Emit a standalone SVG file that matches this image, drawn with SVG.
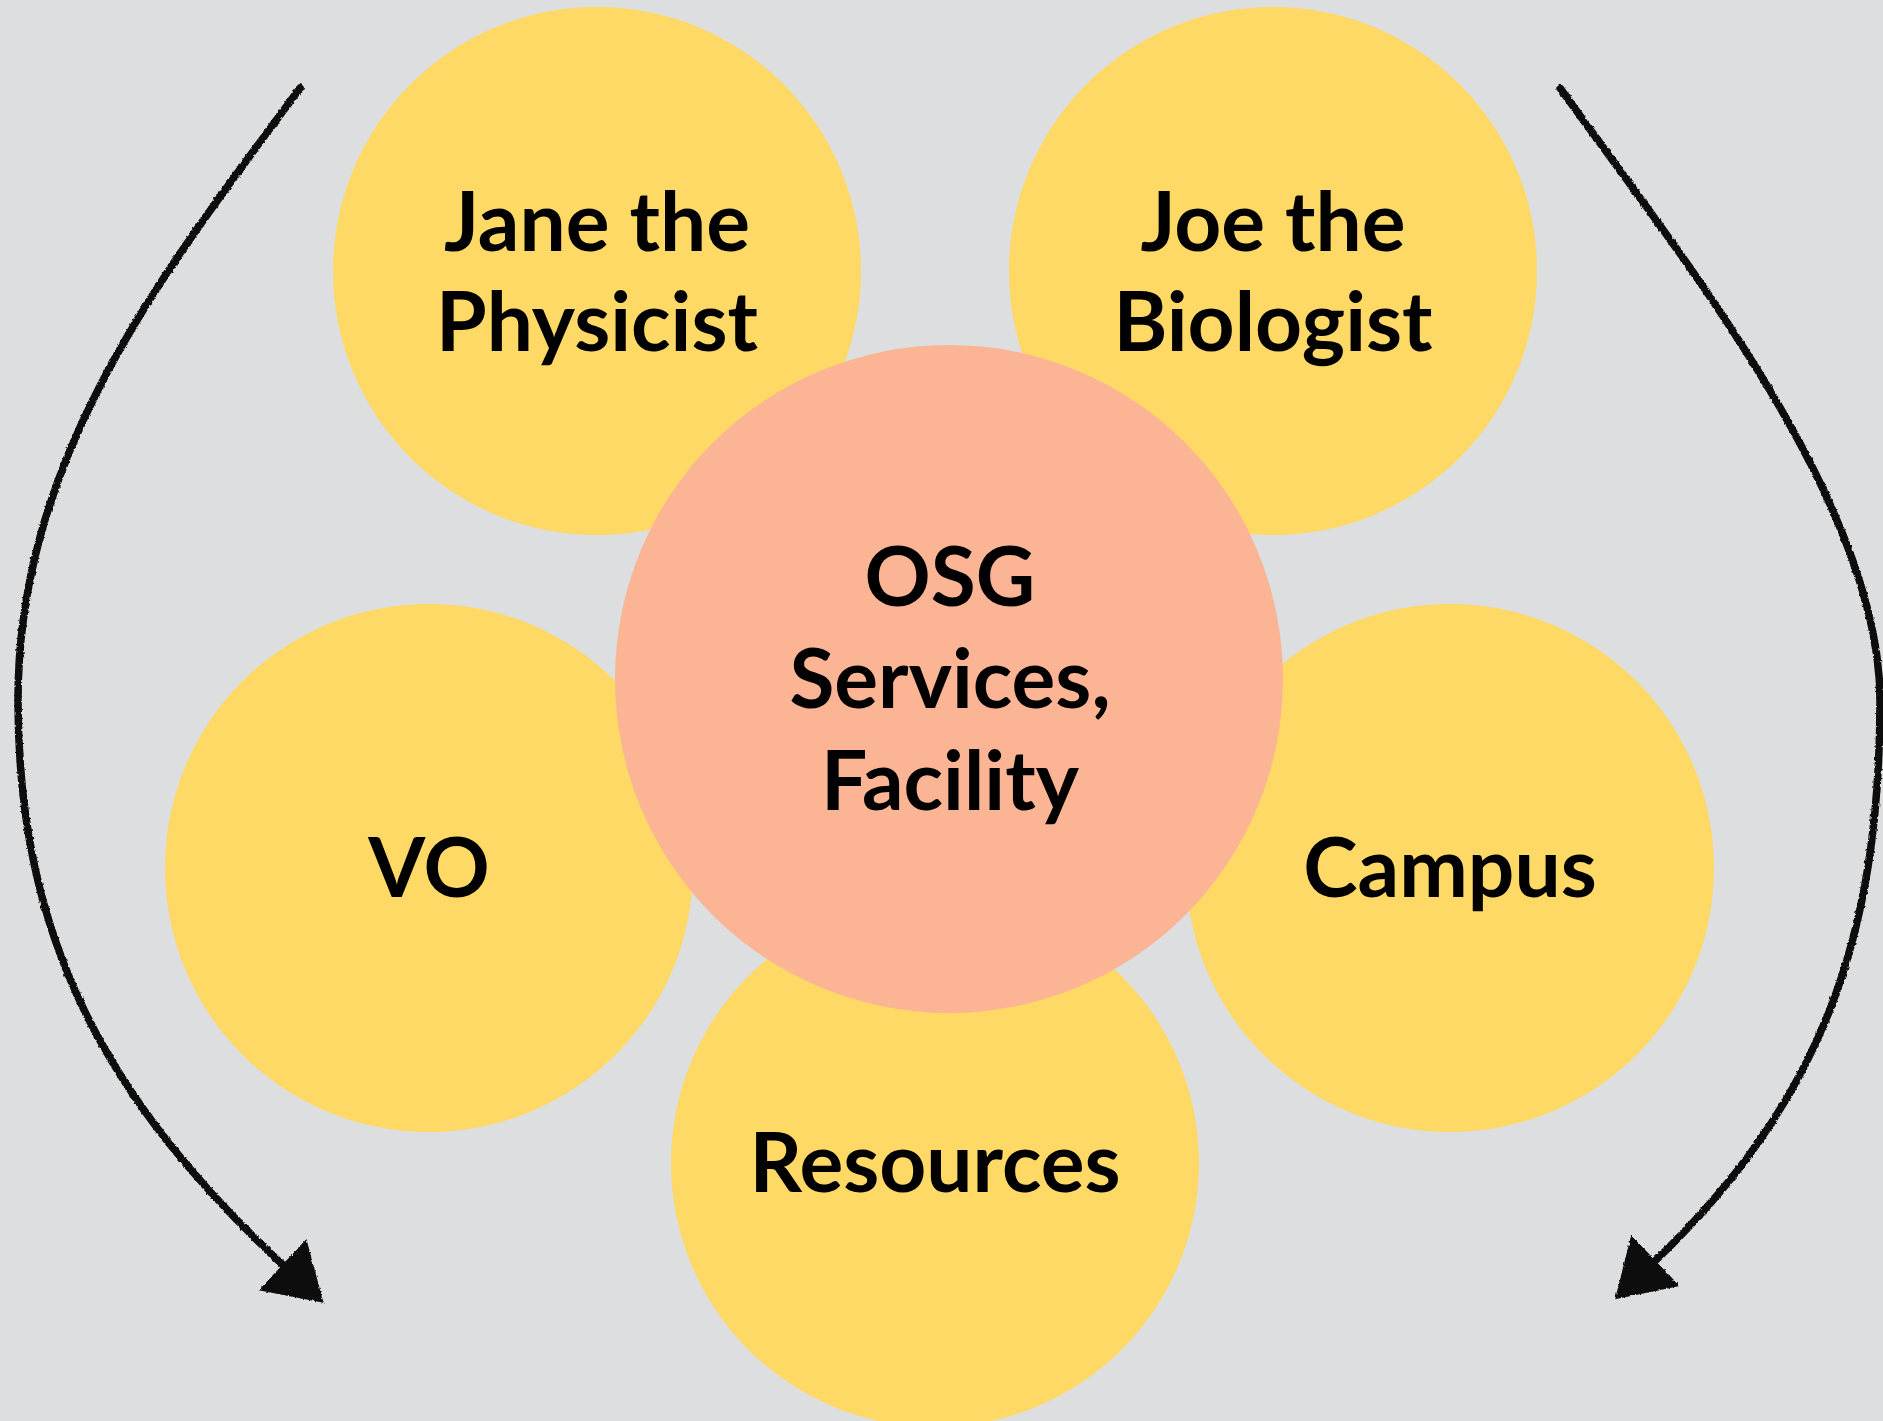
<svg xmlns="http://www.w3.org/2000/svg" width="1883" height="1421" viewBox="0 0 1883 1421">
  <style>
    .outer { fill: #FED966; }
    .core { fill: #FBB494; }
    .label { font-family: "Lato", "Liberation Sans", sans-serif; font-weight: 700; font-size: 82px; fill: #000; text-anchor: middle; }
    .sweep { fill: none; stroke: #0a0a0a; stroke-width: 7.5; stroke-linecap: round; }
  </style>
  <defs>
    <filter id="rough" x="-10%" y="-10%" width="120%" height="120%">
      <feTurbulence type="fractalNoise" baseFrequency="0.35" numOctaves="2" seed="3" result="noise"/>
      <feDisplacementMap in="SourceGraphic" in2="noise" scale="3" xChannelSelector="R" yChannelSelector="G"/>
    </filter>
    <marker id="head" markerUnits="userSpaceOnUse" markerWidth="70" markerHeight="80" refX="2" refY="36" orient="auto">
      <path d="M0,1 L56,36 L0,71 Z" fill="#0a0a0a"/>
    </marker>
  </defs>

  <rect width="1883" height="1421" fill="#DDDEDF"/>

  <!-- outer petals -->
  <g id="jane">
    <circle class="outer" cx="597" cy="271" r="264"/>
    <text class="label" x="597" y="251">Jane the</text>
    <text class="label" x="597" y="351">Physicist</text>
  </g>
  <g id="joe">
    <circle class="outer" cx="1273" cy="271" r="264"/>
    <text class="label" x="1273" y="251">Joe the</text>
    <text class="label" x="1273" y="351">Biologist</text>
  </g>
  <g id="vo">
    <circle class="outer" cx="429" cy="868" r="264"/>
    <text class="label" x="429" y="897">VO</text>
  </g>
  <g id="campus">
    <circle class="outer" cx="1450" cy="868" r="264"/>
    <text class="label" x="1450" y="897">Campus</text>
  </g>
  <g id="resources">
    <circle class="outer" cx="935" cy="1163" r="264"/>
    <text class="label" x="935" y="1192">Resources</text>
  </g>

  <!-- central hub -->
  <g id="osg">
    <circle class="core" cx="949" cy="679" r="334"/>
    <text class="label" x="950" y="606">OSG</text>
    <text class="label" x="950" y="708">Services,</text>
    <text class="label" x="950" y="810">Facility</text>
  </g>

  <!-- hand-drawn sweep arrows -->
  <g id="connectors" filter="url(#rough)">
    <path class="sweep" d="M300,88 C170,265 18,450 18,700 C18,940 107,1101 284,1266" marker-end="url(#head)"/>
    <path class="sweep" d="M1560,88 C1676,250 1880,500 1880,700 C1880,940 1820,1103 1654,1262" marker-end="url(#head)"/>
  </g>
</svg>
